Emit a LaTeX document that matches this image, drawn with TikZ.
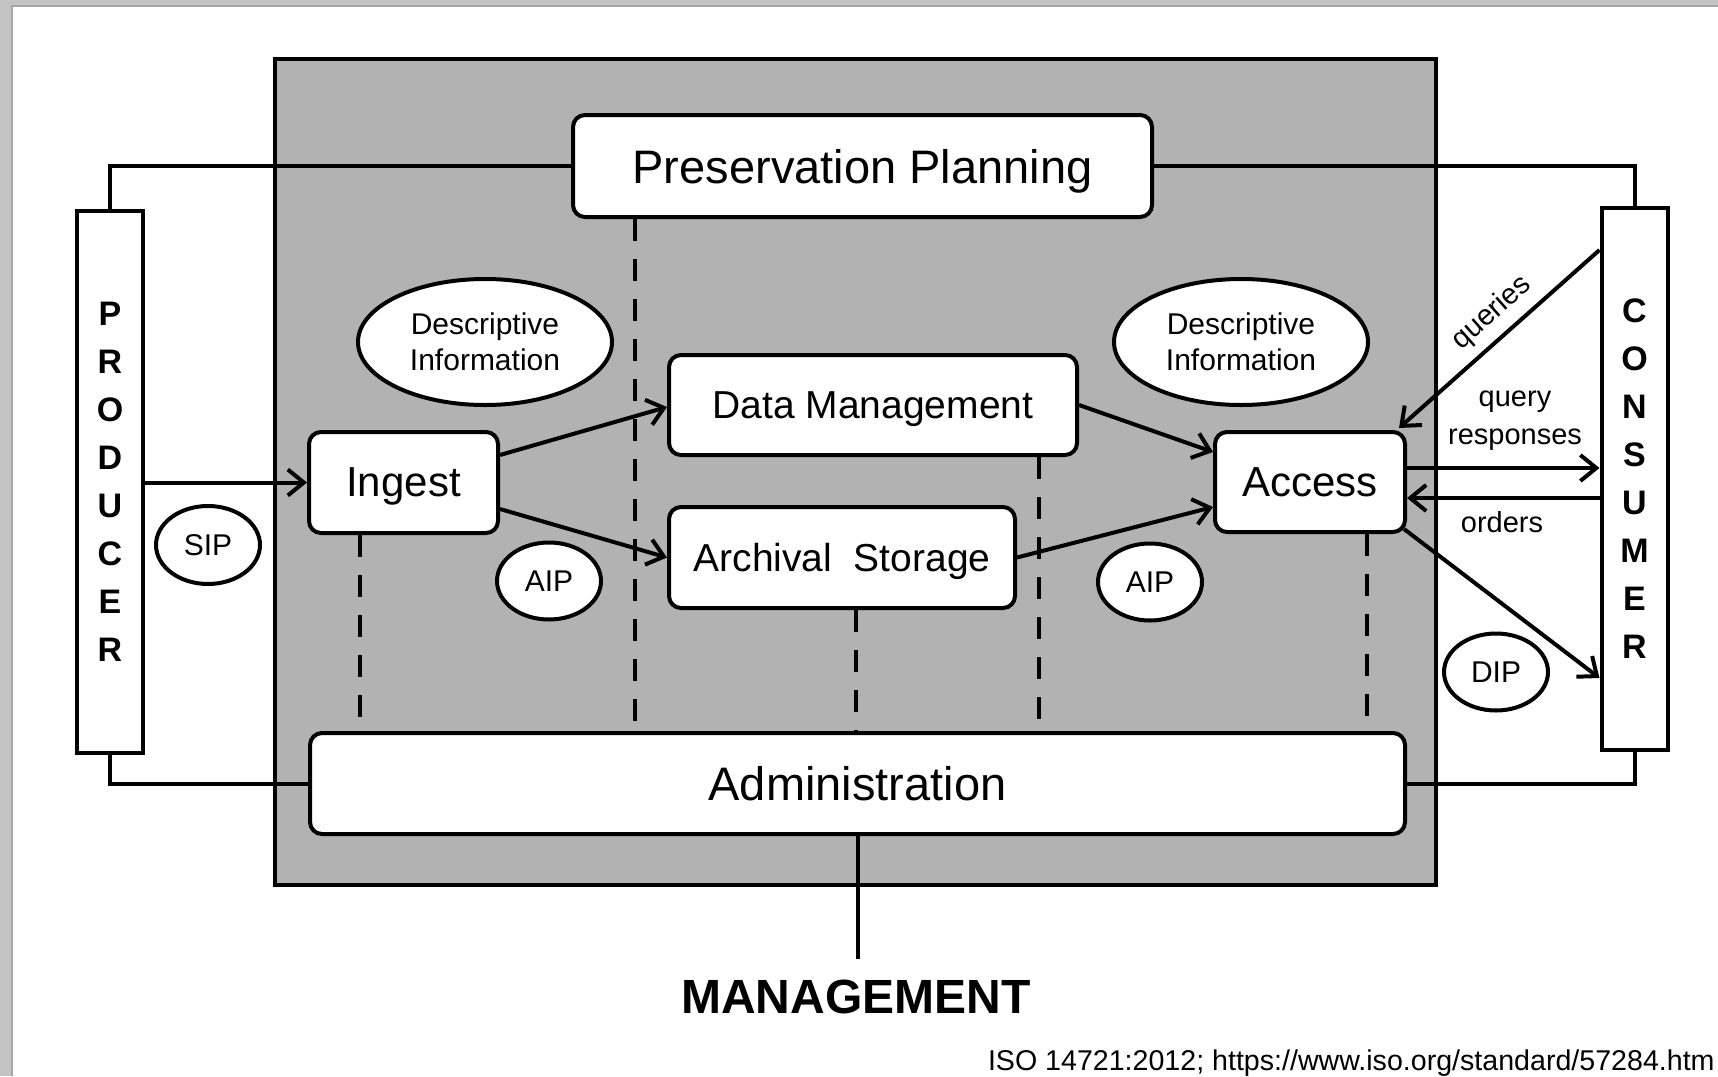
\documentclass[tikz,border=0pt]{standalone}
\usepackage{fontspec}
\setmainfont{Liberation Sans}
\usetikzlibrary{arrows.meta,shapes.geometric,calc}
\definecolor{frameg}{HTML}{B2B2B2}
\definecolor{edgeg}{HTML}{C4C4C4}
\begin{document}
\begin{tikzpicture}[x=0.5pt,y=-0.5pt,line width=2pt,
  box/.style={draw,fill=white,rounded corners=6pt,inner sep=0pt,align=center,text depth=0pt},
  bar/.style={draw,fill=white,inner sep=0pt,minimum width=33pt,minimum height=271pt,align=center,font=\fontsize{17}{24}\selectfont\bfseries},
  oval/.style={draw,fill=white,ellipse,inner sep=0pt,align=center,font=\fontsize{15}{18}\selectfont},
  lbl/.style={inner sep=0pt,align=center,font=\fontsize{14.5}{19}\selectfont},
  arr/.style={-{Straight Barb[length=8pt,width=13pt]}},
  dline/.style={line width=2.4pt,dash pattern=on 11pt off 9pt}]
\useasboundingbox (0,0) rectangle (1718,1076);
% background and page margins
\fill[edgeg] (0,0) rectangle (1718,1076);
\fill[white] (12,6) rectangle (1718,1076);
\draw[line width=0.6pt,gray!70] (12,1076) -- (12,6) -- (1718,6);
% OAIS frame
\node[draw,fill=frameg,inner sep=0pt,minimum width=580.5pt,minimum height=413pt] (oais) at (855.5,472) {};
% boxes
\node[box,minimum width=289.5pt,minimum height=51pt,font=\fontsize{23.5}{26}\selectfont] (pp) at (862.5,166) {Preservation Planning};
\node[box,minimum width=547.5pt,minimum height=50.5pt,font=\fontsize{23.5}{26}\selectfont] (admin) at (857.5,783.5) {Administration};
\node[box,minimum width=94.5pt,minimum height=50.5pt,font=\fontsize{21}{24}\selectfont] (ingest) at (403.5,482.5) {Ingest};
\node[box,minimum width=204pt,minimum height=50pt,font=\fontsize{19.5}{22}\selectfont] (dm) at (873,405) {Data Management};
\node[box,minimum width=173pt,minimum height=50.5pt,font=\fontsize{19.5}{22}\selectfont] (as) at (842,557.5) {Archival\ \ Storage};
\node[box,minimum width=95pt,minimum height=50pt,font=\fontsize{21}{24}\selectfont] (access) at (1310,482) {Access};
\node[bar] (producer) at (110,481.5) {P\\R\\O\\D\\U\\C\\E\\R};
\node[bar] (consumer) at (1634.5,479) {C\\O\\N\\S\\U\\M\\E\\R};
% ovals
\node[oval,minimum width=127pt,minimum height=63pt] (descL) at (485,342) {Descriptive\\Information};
\node[oval,minimum width=127pt,minimum height=63pt] (descR) at (1241,342) {Descriptive\\Information};
\node[oval,minimum width=52pt,minimum height=39pt] (sip) at (208,545) {SIP};
\node[oval,minimum width=52pt,minimum height=38.5pt] (aipL) at (549,581) {AIP};
\node[oval,minimum width=52pt,minimum height=38.5pt] (aipR) at (1150,582) {AIP};
\node[oval,minimum width=52pt,minimum height=38.5pt] (dip) at (1496,672) {DIP};
% labels
\node[lbl,rotate=41.6] (qlab) at (1492,313) {queries};
\node[lbl] (qrlab) at (1515,421) {query\\responses};
\node[lbl] (olab) at (1502,522) {orders};
\node[inner sep=0pt,font=\fontsize{24}{28}\selectfont\bfseries] (mgmt) at (856,997) {MANAGEMENT};
\node[inner sep=0pt,anchor=base west,font=\fontsize{14.3}{16}\selectfont] (iso) at (986,1070) {ISO 14721:2012; https://www.iso.org/standard/57284.htm};
% outer connectors
\draw (producer.north) |- (pp.west);
\draw (pp.east) -| (consumer.north);
\draw (producer.south) |- (admin.west);
\draw (admin.east) -| (consumer.south);
\coordinate (mgtop) at (857.5,959);
\draw (admin.south) -- (mgtop);
% dashed links to administration
\coordinate (d1) at ([xshift=-21.75pt]ingest.south);
\coordinate (d2) at ([xshift=-113.75pt]pp.south);
\coordinate (d3) at ([xshift=7pt]as.south);
\coordinate (d4) at ([xshift=83pt]dm.south);
\coordinate (d5) at ([xshift=28.5pt]access.south);
\foreach \d in {d1,d2,d3,d4,d5} \draw[dline] (\d) -- (\d |- admin.north);
% flow arrows
\draw[arr] (producer.east |- ingest.west) -- (ingest.west);
\draw[arr] ([yshift=13.75pt]ingest.east) -- ([yshift=-1pt]dm.west);
\draw[arr] ([yshift=-13.25pt]ingest.east) -- (as.west);
\draw[arr] (dm.east) -- ([yshift=15pt]access.west);
\draw[arr] (as.east) -- ([yshift=-12.5pt]access.west);
\draw[arr] ([yshift=114.5pt]consumer.west) -- ([shift={(-4pt,1pt)}]access.north east);
\coordinate (qr) at ([yshift=7pt]access.east);
\draw[arr] (qr) -- (qr -| consumer.west);
\coordinate (ord) at ([yshift=-8pt]access.east);
\draw[arr] (ord -| consumer.west) -- (ord);
\draw[arr] ([shift={(-1.5pt,2.5pt)}]access.south east) -- ([yshift=-99.5pt]consumer.west);
\end{tikzpicture}
\end{document}
